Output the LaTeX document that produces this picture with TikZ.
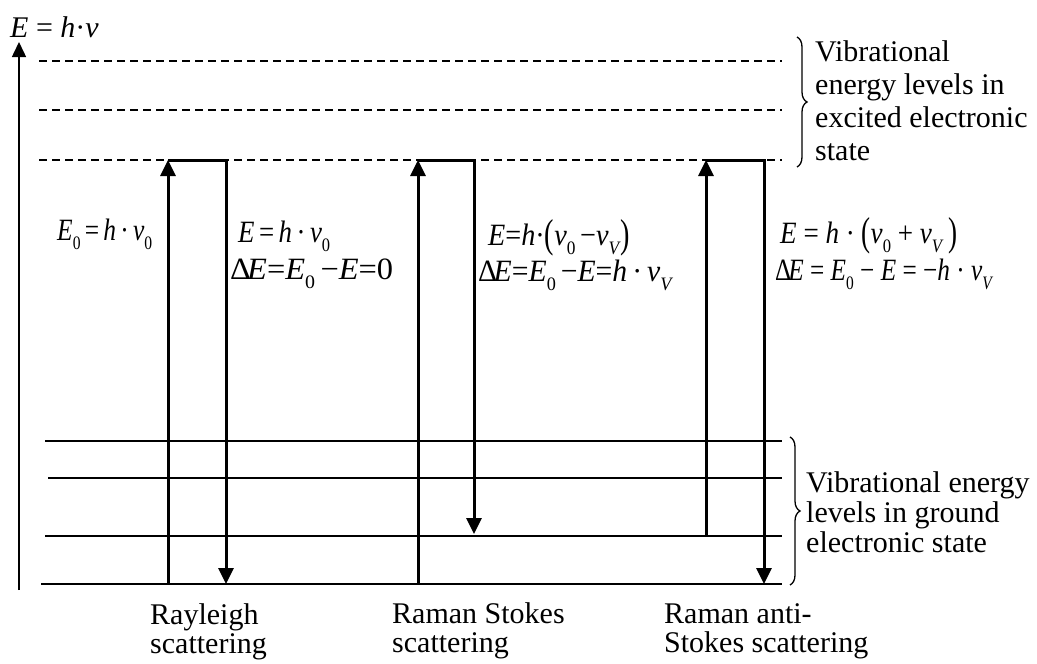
\documentclass[tikz,border=0pt]{standalone}
\usepackage{fontspec}
\setmainfont{Liberation Serif}
\usepackage{graphicx}
\usetikzlibrary{arrows.meta,decorations.pathreplacing}

% lowered index, tall parenthesis, equation line stretched to a given width
\newcommand\lo[1]{\raisebox{-0.3em}{\fontsize{19}{19}\selectfont #1}}
\newcommand\bp[1]{\raisebox{-0.08em}{\scalebox{1}[1.3]{#1}}}
\newcommand\eqline[2]{\resizebox{#1}{\height}{#2}}

\begin{document}
\begin{tikzpicture}[x=1pt,y=-1pt,
  level/.style={line width=1.5pt},
  virtual/.style={line width=1.3pt,dash pattern=on 8pt off 5pt},
  trans/.style={line width=3pt,line join=miter},
  head/.style={-{Triangle[width=15pt,length=16pt]}},
  axisline/.style={line width=1.5pt,-{Triangle[width=14pt,length=15pt]}},
  bracestyle/.style={line width=1.3pt,decorate,decoration={brace,amplitude=10pt}},
  lbl/.style={inner sep=0pt,anchor=base west,align=left},
  eqn/.style={inner sep=0pt,anchor=base west,font=\fontsize{31}{31}\selectfont}]

\useasboundingbox (0,0) rectangle (1037,664);

% energy axis
\coordinate (ax0) at (19,590);
\coordinate (ax1) at (19,42);
\draw[axisline] (ax0) -- (ax1);
\node[lbl,font=\fontsize{30}{30}\selectfont] (axlabel) at (10,37) {\textit{E} = \textit{h}·\textit{v}};

% virtual (excited) levels
\foreach \n/\y in {1/61,2/110,3/160}{
  \coordinate (v\n a) at (39,\y);
  \coordinate (v\n b) at (782,\y);
  \draw[virtual] (v\n a) -- (v\n b);
}

% ground-state vibrational levels
\coordinate (g1a) at (45,441); \coordinate (g1b) at (782,441);
\coordinate (g2a) at (48,478); \coordinate (g2b) at (782,478);
\coordinate (g3a) at (45,536); \coordinate (g3b) at (782,536);
\coordinate (g4a) at (41,584); \coordinate (g4b) at (782,584);
\draw[level] (g1a) -- (g1b);
\draw[level] (g2a) -- (g2b);
\draw[level] (g3a) -- (g3b);
\draw[level] (g4a) -- (g4b);

% Rayleigh
\coordinate (ra0) at (168,584); \coordinate (ra1) at (168,160);
\coordinate (rb1) at (226,160); \coordinate (rb0) at (226,584);
\draw[trans,head] (ra0) -- (ra1);
\draw[trans,head] (ra1) -- (rb1) -- (rb0);

% Raman Stokes
\coordinate (sa0) at (418,584); \coordinate (sa1) at (418,160);
\coordinate (sb1) at (474,160); \coordinate (sb0) at (474,534);
\draw[trans,head] (sa0) -- (sa1);
\draw[trans,head] (sa1) -- (sb1) -- (sb0);

% Raman anti-Stokes
\coordinate (aa0) at (706,535); \coordinate (aa1) at (706,160);
\coordinate (ab1) at (764,160); \coordinate (ab0) at (764,584);
\draw[trans,head] (aa0) -- (aa1);
\draw[trans,head] (aa1) -- (ab1) -- (ab0);

% energy relations
\node[eqn] (e1) at (57,240) {\eqline{95pt}{\textit{E}\lo{0}\,=\,\textit{h}\,·\,\textit{v}\lo{0}}};
\node[eqn] (e2a) at (238,242) {\eqline{92pt}{\textit{E}\,=\,\textit{h}\,·\,\textit{v}\lo{0}}};
\node[eqn] (e2b) at (230,279) {\eqline{163pt}{Δ\kern-0.12em\textit{E}=\textit{E}\lo{0}\,−\textit{E}=0}};
\node[eqn] (e3a) at (488,245) {\eqline{142pt}{\textit{E}=\textit{h}·\bp{(}\textit{v}\lo{0}\,−\textit{v}\lo{\textit{V}}\bp{)}}};
\node[eqn] (e3b) at (478,281) {\eqline{195pt}{Δ\kern-0.12em\textit{E}=\textit{E}\lo{0}\,−\textit{E}=\textit{h}\,·\,\textit{v}\lo{\textit{V}}}};
\node[eqn] (e4a) at (780,243) {\eqline{177pt}{\textit{E} = \textit{h} · \bp{(}\textit{v}\lo{0} + \textit{v}\lo{\textit{V}}\,\bp{)}}};
\node[eqn] (e4b) at (775,280) {\eqline{218pt}{Δ\kern-0.12em\textit{E} = \textit{E}\lo{0} − \textit{E} = −\textit{h} · \textit{v}\lo{\textit{V}}}};

% braces and their labels (multi-line nodes sit on their last baseline)
\coordinate (bt0) at (797,37); \coordinate (bt1) at (797,167);
\draw[bracestyle] (bt0) -- (bt1);
\node[lbl,font=\fontsize{30}{32.7}\selectfont] (exclabel) at (815,160)
  {Vibrational\\energy levels in\\excited electronic\\state};

\coordinate (bg0) at (790,437); \coordinate (bg1) at (790,585);
\draw[bracestyle] (bg0) -- (bg1);
\node[lbl,font=\fontsize{30}{30}\selectfont] (gndlabel) at (806,552)
  {Vibrational energy\\levels in ground\\electronic state};

% process names
\node[lbl,font=\fontsize{30}{29}\selectfont] (rayl) at (150,653) {Rayleigh\\scattering};
\node[lbl,font=\fontsize{30}{29}\selectfont] (stokes) at (392,652) {Raman Stokes\\scattering};
\node[lbl,font=\fontsize{30}{29}\selectfont] (astokes) at (664,652) {Raman anti-\\Stokes scattering};

\end{tikzpicture}
\end{document}
